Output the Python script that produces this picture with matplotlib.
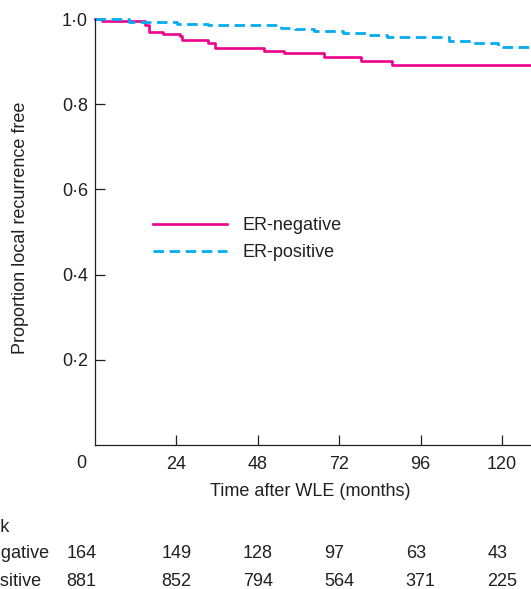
import matplotlib
matplotlib.use("Agg")
import matplotlib.pyplot as plt
import matplotlib.transforms as mtransforms

plt.rcParams['font.family'] = ['Liberation Sans', 'DejaVu Sans']

# Kaplan-Meier step points
neg_times = [0, 2, 14.7, 16, 19.9, 25, 25.5, 33.2, 35.5, 49.7, 55.6, 67.6, 78.3, 87.5, 128.5]
neg_surv = [1.0, 0.996, 0.986, 0.970, 0.965, 0.959, 0.951, 0.944, 0.933, 0.926, 0.920,
            0.910, 0.901, 0.892, 0.892]
pos_times = [0, 10.1, 24.2, 33.3, 54.8, 58.8, 64.6, 73.0, 79.8, 86.2, 104.3, 111.3, 118.8, 128.5]
pos_surv = [1.0, 0.992, 0.988, 0.985, 0.980, 0.977, 0.971, 0.966, 0.962, 0.957, 0.948,
            0.944, 0.934, 0.934]

# numbers at risk
risk_times = [0, 24, 48, 72, 96, 120]
risk_neg = [164, 149, 128, 97, 63, 43]
risk_pos = [881, 852, 794, 564, 371, 225]

x_ticks = [24, 48, 72, 96, 120]
y_ticks = [0.2, 0.4, 0.6, 0.8, 1.0]

TXT = '#231f20'
PINK = '#ec008c'
CYAN = '#00aeef'
FS = 13

W, H = 531, 589
fig = plt.figure(figsize=(W / 100, H / 100), dpi=100)
ax = fig.add_axes([95 / W, 1 - 445 / H, 1 - 95 / W, (445 - 19) / H])

ax.step(neg_times, neg_surv, where='post', color=PINK, lw=1.9, label='ER-negative', clip_on=False)
ax.step(pos_times, pos_surv, where='post', color=CYAN, lw=2.0, linestyle=(0, (3.8, 2.0)),
        label='ER-positive', clip_on=False)

ax.set_xlim(0, 128.5)
ax.set_ylim(0, 1.0)
for s in ['top', 'right']:
    ax.spines[s].set_visible(False)
for s in ['left', 'bottom']:
    ax.spines[s].set_color(TXT)
    ax.spines[s].set_linewidth(0.9)

ax.set_xticks(x_ticks)
ax.set_xticklabels([str(t) for t in x_ticks])
ax.set_yticks(y_ticks)
ax.set_yticklabels([f"{v:.1f}".replace('.', '\u00b7') for v in y_ticks])
ax.tick_params(direction='in', length=7.5, width=0.9, color=TXT, labelcolor=TXT, labelsize=FS)
ax.tick_params(axis='x', pad=8)
ax.tick_params(axis='y', pad=5)

# shared origin label
px = fig.dpi_scale_trans
xfig = mtransforms.blended_transform_factory(ax.transData, fig.transFigure)
ax.text(0, 1 - 463 / H, '0', transform=xfig + mtransforms.ScaledTranslation(-13.5 / 100, 0, px),
        ha='center', va='center', fontsize=FS, color=TXT)

fig.text(21 / W, 1 - 228 / H, 'Proportion local recurrence free', rotation=90,
         ha='center', va='center', fontsize=FS, color=TXT)
fig.text(310 / W, 1 - 492 / H, 'Time after WLE (months)', ha='center', va='center',
         fontsize=FS, color=TXT)

ax.legend(loc='upper left', bbox_to_anchor=(153 / W, 1 - 217 / H), bbox_transform=fig.transFigure,
          frameon=False, fontsize=FS, handlelength=4.1, handletextpad=0.85, labelspacing=0.58,
          borderpad=0, borderaxespad=0, labelcolor=TXT)

# number at risk table (row labels run off the left edge as in the source)
fig.text(9 / W, 1 - 528 / H, 'Number at risk', ha='right', va='center', fontsize=FS, color=TXT)
fig.text(50 / W, 1 - 554 / H, 'ER-negative', ha='right', va='center', fontsize=FS, color=TXT)
fig.text(42 / W, 1 - 581 / H, 'ER-positive', ha='right', va='center', fontsize=FS, color=TXT)
for i, t in enumerate(risk_times):
    off = -28.5 if t == 0 else -15
    tr = xfig + mtransforms.ScaledTranslation(off / 100, 0, px)
    ax.text(t, 1 - 554 / H, str(risk_neg[i]), transform=tr, ha='left', va='center',
            fontsize=FS, color=TXT)
    ax.text(t, 1 - 581 / H, str(risk_pos[i]), transform=tr, ha='left', va='center',
            fontsize=FS, color=TXT)

fig.savefig('out.png', dpi=100)
